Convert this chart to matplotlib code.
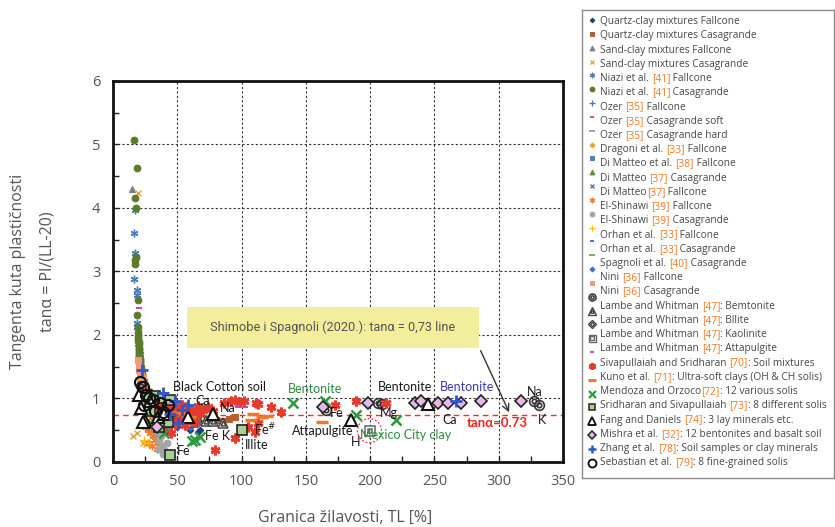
import re
import matplotlib
matplotlib.use("Agg")
import matplotlib.pyplot as plt
from matplotlib.patches import Ellipse, Rectangle
from matplotlib.ticker import MultipleLocator

# ------------------------------------------------------------------ data
quartz_fall_tl = [28, 32, 36, 40, 45, 50, 55, 60, 66, 67.5, 30, 38, 42]
quartz_fall_tan = [0.55, 0.6, 0.5, 0.62, 0.58, 0.55, 0.6, 0.5, 0.47, 0.5, 0.75, 0.7, 0.45]
quartz_casa_tl = [35, 42, 50, 58, 80, 85, 90, 95, 25, 30, 22, 27]
quartz_casa_tan = [0.8, 0.75, 0.7, 0.68, 0.66, 0.65, 0.67, 0.7, 1.1, 0.95, 1.25, 1.05]
sand_fall_tl = [15, 19.5, 21, 24, 27, 33, 38, 45, 55, 65, 72]
sand_fall_tan = [4.29, 1.7, 1.35, 1.1, 0.9, 0.75, 0.68, 0.7, 0.7, 0.68, 0.7]
sand_casa_tl = [19.2, 17.4, 15.8, 19, 23, 26]
sand_casa_tan = [4.24, 3.13, 0.4, 0.45, 0.3, 0.28]
niazi_fall_tl = [17.1, 16.5, 17.3, 17.6, 16.5, 18.6, 18.9, 18.4, 18.9, 19.6, 20, 20.5, 21, 21.5, 22, 23, 24, 25, 27, 29,
                 19.2, 19.8, 20.3, 20.8, 21.8, 22.6]
niazi_fall_tan = [3.97, 3.61, 3.29, 3.22, 2.88, 2.71, 2.63, 2.18, 2.13, 1.85, 1.75, 1.65, 1.57, 1.5, 1.42, 1.33, 1.25, 1.17, 1.1, 1.03,
                  2.05, 1.95, 1.8, 1.7, 1.45, 1.38]
niazi_casa_tl = [16.5, 18.4, 16.8, 17.6, 17.1, 17.3, 19.4, 18.9, 19.2, 19.4, 19.8, 20, 20.2, 20.4, 20.6, 20.8, 21, 21.3, 21.6, 22, 22.5, 23,
                 19.6, 19.9, 20.1, 20.5, 20.9, 21.2, 21.8, 22.2, 17.8]
niazi_casa_tan = [5.06, 4.62, 4.16, 4.0, 3.18, 3.12, 2.55, 2.31, 2.13, 2.03, 1.92, 1.85, 1.8, 1.74, 1.68, 1.62, 1.57, 1.52, 1.47, 1.42, 1.36, 1.3,
                  1.97, 1.88, 1.77, 1.71, 1.6, 1.55, 1.45, 1.39, 3.22]
ozer_fall_tl = [20, 23, 27, 33, 40]
ozer_fall_tan = [1.6, 1.3, 1.1, 0.95, 0.85]
ozer_soft_tl = [24, 28, 35, 45]
ozer_soft_tan = [0.95, 0.85, 0.78, 0.7]
ozer_hard_tl = [26, 32, 40]
ozer_hard_tan = [0.9, 0.8, 0.75]
dragoni_tl = [30, 38, 46]
dragoni_tan = [0.92, 0.85, 0.62]
dimatteo38_fall_tl = [32, 40, 52]
dimatteo38_fall_tan = [0.85, 0.9, 0.88]
dimatteo37_casa_tl = [22, 25, 28, 35]
dimatteo37_casa_tan = [1.2, 1.0, 0.55, 0.45]
dimatteo37_fall_tl = [24, 30, 36]
dimatteo37_fall_tan = [0.9, 0.8, 0.7]
elshinawi_fall_tl = [22, 24, 26, 28, 30, 32, 25, 27, 29, 31, 33, 35, 30, 28, 36, 38, 40, 42, 45, 48, 52, 55, 34, 37, 23, 21]
elshinawi_fall_tan = [0.9, 0.85, 0.8, 0.75, 0.7, 0.65, 0.55, 0.5, 0.45, 0.4, 0.35, 0.3, 0.25, 0.3, 0.45, 0.55, 0.65, 0.7, 0.72, 0.75, 0.78, 0.8, 0.2, 0.25, 1.15, 1.3]
elshinawi_casa_tl = [34, 36, 38, 40, 42, 37, 39, 35]
elshinawi_casa_tan = [0.47, 0.35, 0.25, 0.19, 0.3, 0.4, 0.12, 0.2]
orhan_fall_tl = [24, 27, 30]
orhan_fall_tan = [0.35, 0.3, 0.6]
orhan_casa_tl = [29, 37]
orhan_casa_tan = [0.82, 0.78]
orhan_casa2_tl = [31, 44]
orhan_casa2_tan = [0.88, 0.8]
spagnoli_casa_tl = [60, 65, 45, 50]
spagnoli_casa_tan = [0.55, 0.6, 0.9, 0.85]
nini_fall_tl = [19.5, 20, 20.5, 21, 21.5, 22, 22.5, 23, 24, 25, 26, 27, 28, 30, 32, 34, 22, 24, 26, 28, 30, 33, 36, 40, 45, 50, 38, 42,
                21, 23, 25, 27]
nini_fall_tan = [1.6, 1.5, 1.45, 1.4, 1.35, 1.3, 1.25, 1.2, 1.15, 1.1, 1.08, 1.05, 1.02, 1.0, 0.98, 0.95, 1.1, 1.0, 0.95, 0.9, 0.85, 0.8, 0.78, 0.8, 0.78, 0.75, 0.9, 0.88,
                 1.25, 1.32, 1.22, 1.12]
nini_casa_tl = [327.6, 331.5, 165.9, 206, 209.6, 22, 30]
nini_casa_tan = [0.95, 0.89, 0.82, 0.92, 0.91, 1.2, 0.9]
lambe_bent_tl = [61.1, 85.6, 67, 72, 78, 55, 48]
lambe_bent_tan = [0.63, 0.61, 0.66, 0.64, 0.65, 0.62, 0.66]
lambe_ill_tl = [34, 40]
lambe_ill_tan = [0.6, 0.55]
lambe_kao_tl = [199.5, 36]
lambe_kao_tan = [0.49, 0.95]
lambe_att_tl = [20.2, 97, 103]
lambe_att_tan = [2.42, 0.86, 0.86]
siva_tl = [30, 34, 38, 42, 46, 50, 54, 58, 62, 66, 70, 74, 78, 36, 44, 52, 60, 68, 48, 56, 64, 40, 45,
           92, 95, 98.6, 112.8, 123.2, 131, 172.4, 189.2, 110.2, 112.8, 94.7, 105, 79.2, 212.5, 111.6, 86, 102]
siva_tan = [0.95, 0.9, 0.85, 0.92, 0.88, 0.8, 0.9, 0.85, 0.78, 0.88, 0.82, 0.86, 0.8, 0.7, 0.72, 0.66, 0.7, 0.75, 0.6, 0.58, 0.62, 0.55, 0.45,
            0.95, 0.97, 0.94, 0.91, 0.87, 0.79, 0.89, 0.95, 0.47, 0.61, 0.37, 0.55, 0.19, 0.93, 0.92, 0.93, 0.96]
kuno_tl = [109, 115.5, 107.7, 162.8, 120, 52, 60]
kuno_tan = [0.76, 0.70, 0.66, 0.62, 0.72, 0.78, 0.7]
mendoza_tl = [140, 164.6, 189.2, 220.3, 63.7, 61.1, 67.5, 30, 40]
mendoza_tan = [0.92, 0.95, 0.74, 0.66, 0.34, 0.32, 0.39, 0.6, 0.45]
sridharan_tl = [26.2, 32.6, 39, 44.3, 44.3, 42.9, 100.7, 29, 36]
sridharan_tan = [1.05, 1.03, 1.0, 0.97, 0.11, 0.63, 0.5, 0.8, 0.55]
fang_tl = [20, 24.8, 23.5, 29, 35, 77.9, 185.3, 244.8, 40, 58, 22]
fang_tan = [1.05, 0.65, 0.63, 0.95, 0.7, 0.76, 0.66, 0.91, 0.75, 0.7, 0.85]
mishra_tl = [163.3, 198.5, 234.5, 239.7, 252.6, 260.3, 270.7, 286.3, 317.3, 34]
mishra_tan = [0.87, 0.92, 0.93, 0.95, 0.92, 0.93, 0.93, 0.95, 0.95, 0.55]
zhang_tl = [22.3, 39, 48.1, 53.3, 58.5, 50.7, 266.8, 44]
zhang_tan = [1.45, 1.08, 0.95, 0.82, 0.89, 0.61, 0.95, 0.75]
sebastian_tl = [21, 23.5, 26, 31.3, 36.5, 43, 28, 24, 33, 39]
sebastian_tan = [1.26, 1.18, 1.05, 0.97, 0.92, 0.89, 1.0, 0.9, 0.8, 0.78]

legend_texts = [
    "Quartz-clay mixtures Fallcone", "Quartz-clay mixtures Casagrande",
    "Sand-clay mixtures Fallcone", "Sand-clay mixtures Casagrande",
    "Niazi et al. [41] Fallcone", "Niazi et al. [41] Casagrande",
    "Ozer [35] Fallcone", "Ozer [35] Casagrande soft", "Ozer [35] Casagrande hard",
    "Dragoni et al. [33] Fallcone", "Di Matteo et al. [38] Fallcone",
    "Di Matteo [37] Casagrande", "Di Matteo[37] Fallcone",
    "El-Shinawi [39] Fallcone", "El-Shinawi [39] Casagrande",
    "Orhan et al. [33] Fallcone", "Orhan et al. [33] Casagrande",
    "Spagnoli et al. [40] Casagrande", "Nini [36] Fallcone", "Nini [36] Casagrande",
    "Lambe and Whitman [47]: Bemtonite", "Lambe and Whitman [47]: Bllite",
    "Lambe and Whitman [47]: Kaolinite", "Lambe and Whitman [47]: Attapulgite",
    "Sivapullaiah and Sridharan [70]: Soil mixtures",
    "Kuno et al. [71]: Ultra-soft clays (OH & CH solis)",
    "Mendoza and Orzoco[72]: 12 various solis",
    "Sridharan and Sivapullaiah [73]: 8 different solis",
    "Fang and Daniels [74]: 3 lay minerals etc.",
    "Mishra et al. [32]: 12 bentonites and basalt soil",
    "Zhang et al. [78]: Soil samples or clay minerals",
    "Sebastian et al. [79]: 8 fine-grained solis",
]

AST = (6, 2, 0)
series = [
    (quartz_fall_tl, quartz_fall_tan, dict(marker="D", ms=3.3, color="#203f7a")),
    (quartz_casa_tl, quartz_casa_tan, dict(marker="s", ms=4.2, color="#b5602c")),
    (sand_fall_tl, sand_fall_tan, dict(marker="^", ms=4.8, color="#7f7f7f")),
    (sand_casa_tl, sand_casa_tan, dict(marker="x", ms=5, color="#e3a33a", mew=1)),
    (niazi_fall_tl, niazi_fall_tan, dict(marker=AST, ms=5.5, color="#4a7ebb", mew=1)),
    (niazi_casa_tl, niazi_casa_tan, dict(marker="o", ms=4.8, color="#5b7b2a")),
    (ozer_fall_tl, ozer_fall_tan, dict(marker="+", ms=6, color="#4472c4", mew=1)),
    (ozer_soft_tl, ozer_soft_tan, dict(marker="_", ms=5, color="#e5533d", mew=1.5)),
    (ozer_hard_tl, ozer_hard_tan, dict(marker="_", ms=6, color="#a0a0a0", mew=1.5)),
    (dragoni_tl, dragoni_tan, dict(marker="D", ms=3.5, color="#f0a030")),
    (dimatteo38_fall_tl, dimatteo38_fall_tan, dict(marker="s", ms=4.2, color="#4f81bd")),
    (dimatteo37_casa_tl, dimatteo37_casa_tan, dict(marker="^", ms=4.8, color="#5f8f3a")),
    (dimatteo37_fall_tl, dimatteo37_fall_tan, dict(marker="x", ms=5, color="#4472c4", mew=1)),
    (elshinawi_fall_tl, elshinawi_fall_tan, dict(marker=AST, ms=5.5, color="#ed7d31", mew=1)),
    (elshinawi_casa_tl, elshinawi_casa_tan, dict(marker="o", ms=4.8, color="#a5a5a5")),
    (orhan_fall_tl, orhan_fall_tan, dict(marker="+", ms=6, color="#ffc000", mew=1)),
    (orhan_casa_tl, orhan_casa_tan, dict(marker="_", ms=4, color="#4472c4", mew=1.5)),
    (orhan_casa2_tl, orhan_casa2_tan, dict(marker="_", ms=6, color="#70ad47", mew=1.5)),
    (spagnoli_casa_tl, spagnoli_casa_tan, dict(marker="D", ms=3.5, color="#3f6fc8")),
    (nini_fall_tl, nini_fall_tan, dict(marker="s", ms=4.5, color="#f29a78")),
    (nini_casa_tl, nini_casa_tan, dict(marker="o", ms=7, mfc="none", mec="#333333", mew=1.2, inner=3.2)),
    (lambe_bent_tl, lambe_bent_tan, dict(marker="^", ms=7.5, mfc="white", mec="#444444", mew=1.1, inner=3.5)),
    (lambe_ill_tl, lambe_ill_tan, dict(marker="D", ms=6, mfc="white", mec="#444444", mew=1.1, inner=2.8)),
    (lambe_kao_tl, lambe_kao_tan, dict(marker="s", ms=7, mfc="white", mec="#666666", mew=1.1, inner=3.4)),
    (lambe_att_tl, lambe_att_tan, dict(marker="_", ms=4, color="#cc44cc", mew=1.5)),
    (siva_tl, siva_tan, dict(marker=AST, ms=7, color="#e63a2c", mew=2)),
    (kuno_tl, kuno_tan, dict(marker="_", ms=8, color="#f07828", mew=2.5)),
    (mendoza_tl, mendoza_tan, dict(marker="x", ms=7, color="#2e9a3e", mew=1.8)),
    (sridharan_tl, sridharan_tan, dict(marker="s", ms=6.5, mfc="#a9d18e", mec="#222222", mew=1.2)),
    (fang_tl, fang_tan, dict(marker="^", ms=8, mfc="white", mec="#111111", mew=1.5)),
    (mishra_tl, mishra_tan, dict(marker="D", ms=6, mfc="#e6b8e6", mec="#222222", mew=1.2)),
    (zhang_tl, zhang_tan, dict(marker="+", ms=8, color="#3355cc", mew=2)),
    (sebastian_tl, sebastian_tan, dict(marker="o", ms=8, mfc="none", mec="#111111", mew=1.5)),
]

# ------------------------------------------------------------------ figure
W, H = 835, 527
fig = plt.figure(figsize=(W / 100, H / 100), dpi=100)
ax = fig.add_axes([113 / W, 1 - 461.8 / H, 450 / W, 381 / H])
ax.set_xlim(0, 350)
ax.set_ylim(0, 6)

GRAY = "#555555"
ax.xaxis.set_major_locator(MultipleLocator(50))
ax.xaxis.set_minor_locator(MultipleLocator(25))
ax.yaxis.set_major_locator(MultipleLocator(1))
ax.yaxis.set_minor_locator(MultipleLocator(0.5))
ax.tick_params(which="both", direction="in", length=4, width=1, color="#222")
ax.tick_params(labelsize=10.5, labelcolor=GRAY, pad=9)
for lab in ax.get_xticklabels() + ax.get_yticklabels():
    lab.set_family("Open Sans")
for sp in ax.spines.values():
    sp.set_linewidth(2)
    sp.set_color("#111")
ax.grid(which="major", linestyle=(0, (2, 2)), color="#333333", linewidth=0.8)
ax.set_axisbelow(True)

ax.axhline(0.73, color="#ff2a2a", linestyle=(0, (4, 3)), linewidth=1, zorder=1.5)

def draw_series(a, x, y, st, scale=1.0, zorder=3):
    kw = dict(linestyle="none", marker=st["marker"], markersize=st["ms"] * scale, zorder=zorder)
    if "color" in st:
        kw["color"] = st["color"]
    if "mfc" in st:
        kw["markerfacecolor"] = st["mfc"]
        kw["markeredgecolor"] = st["mec"]
    kw["markeredgewidth"] = st.get("mew", 0.8) * (1 if scale == 1 else 0.9)
    a.plot(x, y, **kw)
    if "inner" in st:
        kw2 = dict(kw)
        kw2["markersize"] = st["inner"] * scale
        kw2["markerfacecolor"] = "none"
        a.plot(x, y, **kw2)

for tl, tn, st in series:
    draw_series(ax, tl, tn, st)

# annotation box and arrow
ax.add_patch(Rectangle((57.2, 1.80), 227.8, 0.63, facecolor="#f2ee9c", edgecolor="none", zorder=4))
ax.text(171, 2.115, "Shimobe i Spagnoli (2020.): tan\u03b1 = 0,73 line", ha="center", va="center",
        fontsize=9.2, color=GRAY, family="Roboto", zorder=5)
ax.annotate("", xy=(309, 0.74), xytext=(285, 1.79),
            arrowprops=dict(arrowstyle="->", color="#333333", lw=1, mutation_scale=12), zorder=5)
ax.text(299, 0.61, "tan\u03b1=0.73", ha="center", va="center", fontsize=9.5, color="#ff2020",
        fontweight="bold", family="Lato", zorder=6)
ax.add_patch(Ellipse((199.5, 0.49), 18.6, 0.378, facecolor="none", edgecolor="#ee3333",
                     linestyle=(0, (1.5, 1.5)), linewidth=0.9, zorder=6))

ANN = "Lato"
BLK = "#1a1a1a"
GRN = "#2e8b3e"
BLU = "#3b3bb0"
ann = [
    ("Black Cotton soil", 46.6, 1.18, BLK, "left"),
    ("Bentonite", 135.9, 1.15, GRN, "left"),
    ("Ca", 63.7, 0.95, BLK, "left"),
    ("Na", 83, 0.85, BLK, "left"),
    ("Fe", 49.7, 0.17, BLK, "left"),
    ("Fe K", 71.4, 0.41, BLK, "left"),
    ("Illite", 102.5, 0.27, BLK, "left"),
    ("Fe$^{\\#}$", 110, 0.5, BLK, "left"),
    ("Fe", 168.5, 0.77, BLK, "left"),
    ("Attapulgite", 163.4, 0.49, BLK, "center"),
    ("H", 189, 0.31, BLK, "center"),
    ("Mg", 207.3, 0.77, BLK, "left"),
    ("Bentonite", 205.7, 1.18, BLK, "left"),
    ("Bentonite", 253.9, 1.18, BLU, "left"),
    ("Na", 328, 1.10, BLK, "center"),
    ("K", 334, 0.66, BLK, "center"),
    ("Ca", 261.6, 0.66, BLK, "center"),
    ("Mexico City clay", 191.8, 0.42, GRN, "left"),
]
for s, x, y, c, ha in ann:
    ax.text(x, y, s, color=c, ha=ha, va="center", fontsize=9.0, family=ANN, zorder=7)

# axis labels
fig.text(18 / W, 1 - 271 / H, "Tangenta kuta plastičnosti", rotation=90, ha="center", va="center",
         fontsize=11.5, color=GRAY, family="Open Sans")
fig.text(47 / W, 1 - 272 / H, "tan\u03b1 = PI/(LL-20)", rotation=90, ha="center", va="center",
         fontsize=11.5, color=GRAY, family="Open Sans")
fig.text(345.5 / W, 1 - 518 / H, "Granica žilavosti, TL [%]", ha="center", va="center",
         fontsize=11.5, color=GRAY, family="Open Sans")

# ------------------------------------------------------------------ legend
lax = fig.add_axes([582 / W, 1 - 478 / H, 252 / W, 468 / H])
lax.set_xlim(582, 834)
lax.set_ylim(478, 10)
lax.set_xticks([])
lax.set_yticks([])
for sp in lax.spines.values():
    sp.set_color("#8c8c8c")
    sp.set_linewidth(1)

n_mark = len(series)
for i, (_, _, st) in enumerate(series):
    ym = 20 + i * (442.7 / (n_mark - 1))
    draw_series(lax, [591.5], [ym], st, scale=0.72)

LG = "#474747"
ORG = "#f07820"
LFS = 7.3
for j, lab in enumerate(legend_texts):
    yt = 21.7 + j * (441.0 / (len(legend_texts) - 1))
    parts = [p for p in re.split(r"(\[\d+\])", lab) if p]
    prev = None
    for p in parts:
        col = ORG if re.fullmatch(r"\[\d+\]", p) else LG
        if prev is None:
            prev = lax.text(600.5, yt, p, color=col, fontsize=LFS, family="Open Sans", va="center", ha="left")
        else:
            prev = lax.annotate(p, xy=(1, 0), xycoords=prev, va="bottom", ha="left",
                                color=col, fontsize=LFS, family="Open Sans")

fig.savefig("out.png", dpi=100)
